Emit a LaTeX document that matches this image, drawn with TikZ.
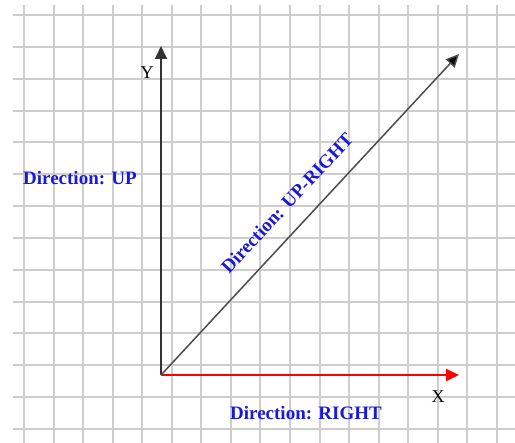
\documentclass[tikz,border=0pt]{standalone}
\usepackage{fontspec}
\setmainfont{Liberation Serif}
\usepackage{xcolor}
\usetikzlibrary{arrows.meta,positioning}

\definecolor{dirblue}{RGB}{25,25,215}
\definecolor{gridgray}{RGB}{205,205,205}

\begin{document}
\begin{tikzpicture}[
    x=1pt, y=-1pt,
    gridline/.style={gridgray, line width=2pt},
    arr/.style={-{Triangle[length=13pt,width=12pt]}, line width=1.8pt},
    dirlabel/.style={text=dirblue, font=\bfseries\fontsize{19}{21}\selectfont, inner sep=0pt},
    axlabel/.style={font=\fontsize{18}{20}\selectfont, inner sep=0pt}
]
\useasboundingbox (0,0) rectangle (515,443);
% grid
\foreach \i in {0,...,16}
  \draw[gridline] ({24+29.56*\i},5) -- ({24+29.56*\i},443);
\foreach \j in {0,...,13}
  \draw[gridline] (13,{15+31.85*\j}) -- (515,{15+31.85*\j});
% axes
\coordinate (O) at (161,375);
\coordinate (Ytip) at (161,46);
\coordinate (Xtip) at (459,375);
\coordinate (Dtip) at (459,54);
\draw[arr, black!80] (O) -- (Ytip);
\draw[arr, red, -{Triangle[length=13pt,width=12pt,fill=red]}] (O) -- (Xtip);
\draw[arr, black!70, line width=1.5pt, -{Triangle[length=13pt,width=12pt,fill=black]}] (O) -- (Dtip);
\node[axlabel] (Ylab) at (147,73) {Y};
\node[axlabel] (Xlab) at (438,397) {X};
% direction labels
\node[dirlabel, anchor=west] (up) at (23,178) {Direction: UP};
\node[dirlabel] (right) at (306,413) {Direction: RIGHT};
\node[dirlabel, rotate=47] (upright) at (287,203) {Direction: UP-RIGHT};
\end{tikzpicture}
\end{document}
